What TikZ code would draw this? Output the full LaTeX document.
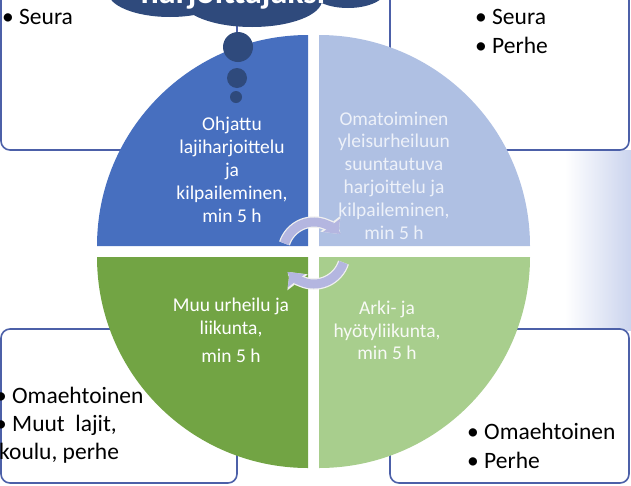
\documentclass[tikz,border=0pt]{standalone}
\usepackage{fontspec}
\setmainfont{Carlito}
\usetikzlibrary{arrows.meta}
\definecolor{cloudnavy}{RGB}{47,74,124}
\definecolor{boxline}{RGB}{76,96,168}
\definecolor{qblue}{RGB}{71,111,191}
\definecolor{qpale}{RGB}{175,192,227}
\definecolor{qgreen}{RGB}{114,164,68}
\definecolor{qlime}{RGB}{168,206,141}
\definecolor{cyclav}{RGB}{180,182,224}
\definecolor{bandblue}{RGB}{203,212,238}
\newcommand{\bul}[1]{\makebox[17pt][l]{\textbullet}#1} % Bullet item.

\tikzset{
  infobox/.style={draw=boxline, line width=1.6pt, fill=white, rounded corners=9pt},
  item/.style={font=\fontsize{23.5}{28}\selectfont, anchor=base west, inner sep=0pt},
  qtext/.style={font=\fontsize{19.5}{23}\selectfont, anchor=base, inner sep=0pt},
  bubble/.style={circle, fill=cloudnavy, inner sep=0pt},
  cyc/.style={line width=9pt, draw=cyclav, -{Triangle[width=21pt,length=11pt]}},
  cycrim/.style={line width=11.5pt, draw=white!88!gray, -{Triangle[width=25pt,length=13pt]}},
}

\begin{document}
\begin{tikzpicture}[x=1pt, y=-1pt]
\useasboundingbox (0,0) rectangle (631,485);
\clip (0,0) rectangle (631,485);
\shade[left color=white, right color=bandblue] (565,150) rectangle (631,330);
% Boxes.
\draw[infobox] (1,-20) rectangle (237,150);
\draw[infobox] (390,-20) rectangle (629,150);
\draw[infobox] (1,329) rectangle (237,483);
\draw[infobox] (390,329) rectangle (629,483);
\node[item] (tlseura) at (2,24) {\bul{Seura}};
\node[item] (trseura) at (475,24) {\bul{Seura}};
\node[item] (trperhe) at (475,53) {\bul{Perhe}};
\node[item] (blomae) at (-5,403) {\bul{Omaehtoinen}};
\node[item] (blmuut) at (-5,431) {\bul{Muut\ \ lajit,}};
\node[item] (blkoulu) at (-1,459) {koulu, perhe};
\node[item] (bromae) at (467,439) {\bul{Omaehtoinen}};
\node[item] (brperhe) at (467,468) {\bul{Perhe}};
% Cloud.
\fill[cloudnavy] (170,-8) ellipse [x radius=62, y radius=25];
\fill[cloudnavy] (252,0) ellipse [x radius=70, y radius=27];
\fill[cloudnavy] (348,-10) ellipse [x radius=38, y radius=18];
\node[font=\fontsize{34}{40}\selectfont\bfseries, text=white, anchor=base, inner sep=0pt]
  (goal) at (233,3) {harjoittajaksi};
% Pie.
\coordinate (tlc) at (308,246);
\coordinate (trc) at (319,246);
\coordinate (blc) at (308,257);
\coordinate (brc) at (319,257);
\fill[qblue] (tlc) -- ++(180:211) arc[start angle=180, end angle=270, radius=211] -- cycle;
\fill[qpale] (trc) -- ++(270:211) arc[start angle=270, end angle=360, radius=211] -- cycle;
\fill[qgreen] (blc) -- ++(90:211) arc[start angle=90, end angle=180, radius=211] -- cycle;
\fill[qlime] (brc) -- ++(0:211) arc[start angle=0, end angle=90, radius=211] -- cycle;
\node[bubble, minimum size=30pt] (bub1) at (238,47) {};
\node[bubble, minimum size=20pt] (bub2) at (237,78) {};
\node[bubble, minimum size=12pt] (bub3) at (236,97) {};
\foreach \t [count=\i] in {Ohjattu, lajiharjoittelu, ja, {kilpaileminen,}, min 5 h}
  \node[qtext, text=white] (tl\i) at (232, 107+23*\i) {\t};
\foreach \t [count=\i] in {Omatoiminen, yleisurheiluun, suuntautuva, harjoittelu ja, {kilpaileminen,}, min 5 h}
  \node[qtext, text=white!90!qblue] (tr\i) at (394, 102.2+22.8*\i) {\t};
\node[qtext, text=white] (bl1) at (231,311) {Muu urheilu ja};
\node[qtext, text=white] (bl2) at (231,334) {liikunta,};
\node[qtext, text=white] (bl3) at (231,362) {min 5 h};
\node[qtext, text=white!95!qgreen] (br1) at (387,314) {Arki- ja};
\node[qtext, text=white!95!qgreen] (br2) at (387,337) {hyötyliikunta,};
\node[qtext, text=white!95!qgreen] (br3) at (387,359) {min 5 h};
% Cycle arrows.
\coordinate (cyc) at (314,253);
\draw[cycrim] (cyc) ++(198:31) arc[start angle=198, end angle=322, radius=31];
\draw[cyc] (cyc) ++(198:31) arc[start angle=198, end angle=322, radius=31];
\draw[cycrim] (cyc) ++(18:31) arc[start angle=18, end angle=142, radius=31];
\draw[cyc] (cyc) ++(18:31) arc[start angle=18, end angle=142, radius=31];
\end{tikzpicture}
\end{document}
